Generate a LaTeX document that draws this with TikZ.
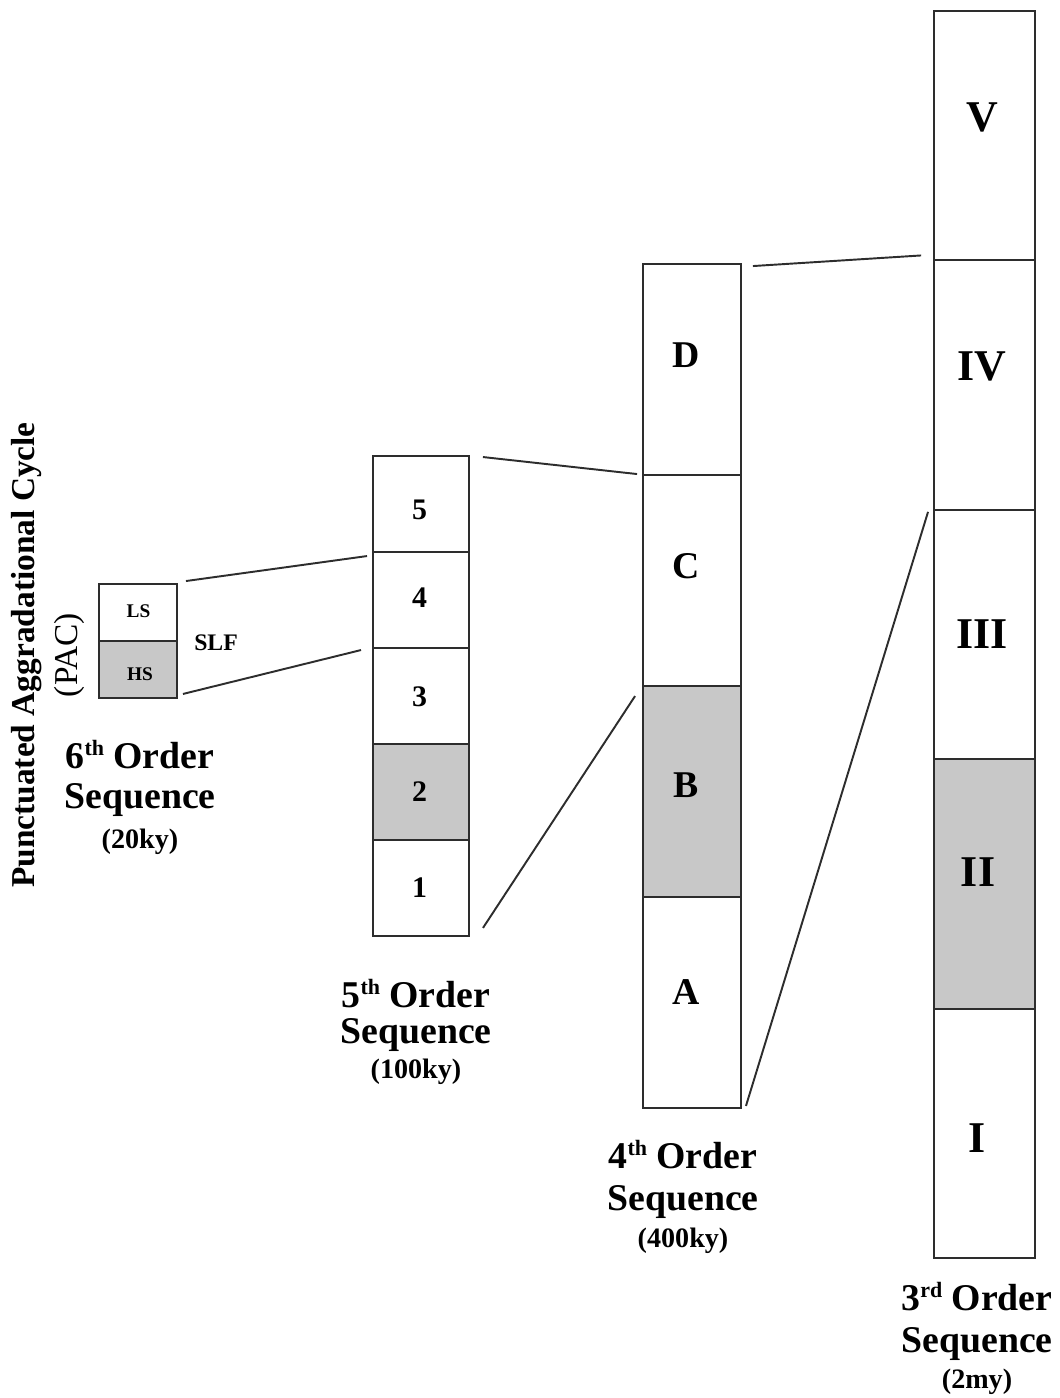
\documentclass[tikz,border=0pt]{standalone}
\usepackage{fontspec}
\setmainfont{Liberation Serif}
\usepackage{xcolor}
\definecolor{hsgray}{RGB}{200,200,200}
\definecolor{edge}{RGB}{45,45,45}
\newcommand\ordsup[1]{\raisebox{7.2pt}{\fontsize{12.5}{13}\selectfont #1}}

\begin{document}
\begin{tikzpicture}[x=0.02cm,y=-0.02cm]
  \tikzset{cell/.style={draw=edge,line width=1.1pt,inner sep=0pt,fill=#1},
    cell/.default=white,
    link/.style={draw=edge,line width=1.1pt},
    order/.style={font=\fontsize{21.5}{24}\selectfont\bfseries,anchor=base},
    age/.style={font=\fontsize{16}{19}\selectfont\bfseries,anchor=base}}
  \useasboundingbox (0,0) rectangle (1059,1398);

  % 6th order (PAC)
  \node[cell,minimum width=1.56cm,minimum height=1.14cm] (ls) at (138,612.5) {};
  \node[cell=hsgray,minimum width=1.56cm,minimum height=1.14cm] (hs) at (138,669.5) {};
  \node[font=\fontsize{11}{13}\selectfont\bfseries] (ls-txt) at (138.5,611.5) {LS};
  \node[font=\fontsize{11}{13}\selectfont\bfseries] (hs-txt) at (140,674.5) {HS};
  \node[font=\fontsize{13.5}{16}\selectfont\bfseries] (slf) at (216,643) {SLF};
  \node[rotate=90,align=center,inner sep=0pt,font=\fontsize{19}{24.4}\selectfont] (pac) at (48,655) {\textbf{Punctuated Aggradational Cycle}\\(PAC)};

  % 5th order
  \foreach \n/\k/\c/\ly in {5/0/white/510,4/1/white/598,3/2/white/697,2/3/hsgray/792,1/4/white/888}{
    \node[cell=\c,minimum width=1.92cm,minimum height=1.92cm] (five-\n) at (421,504+96*\k) {};
    \node[font=\fontsize{17}{20}\selectfont\bfseries] (five-\n-txt) at (419.5,\ly) {\n};
  }

  % 4th order
  \foreach \n/\k/\c/\ly in {D/0/white/355,C/1/white/566,B/2/hsgray/785,A/3/white/992}{
    \node[cell=\c,minimum width=1.96cm,minimum height=4.22cm] (four-\n) at (692,369.5+211*\k) {};
    \node[font=\fontsize{21.5}{24}\selectfont\bfseries] (four-\n-txt) at (686,\ly) {\n};
  }

  % 3rd order
  \foreach \n/\k/\c/\lx/\ly in {V/0/white/982/117,IV/1/white/982/366,III/2/white/982/634,II/3/hsgray/978/872,I/4/white/977/1138}{
    \node[cell=\c,minimum width=2.02cm,minimum height=4.988cm] (three-\n) at (984.5,135.7+249.4*\k) {};
    \node[font=\fontsize{25}{28}\selectfont\bfseries] (three-\n-txt) at (\lx,\ly) {\n};
  }

  % zoom lines
  \draw[link] ([shift={(8,-2)}]ls.north east) -- ([shift={(-5,5)}]five-4.north west);
  \draw[link] ([shift={(5,-5)}]hs.south east) -- ([shift={(-11,3)}]five-3.north west);
  \draw[link] ([shift={(13,2)}]five-5.north east) -- ([shift={(-5,0)}]four-C.north west);
  \draw[link] ([shift={(13,-9)}]five-1.south east) -- ([shift={(-7,11)}]four-B.north west);
  \draw[link] ([shift={(11,3)}]four-D.north east) -- ([shift={(-12,-4)}]three-IV.north west);
  \draw[link] ([shift={(4,-3)}]four-A.south east) -- ([shift={(-5,3)}]three-III.north west);

  % labels
  \node[order] (t6) at (140,768) {6\ordsup{th} Order};
  \node[order] (s6) at (140,808) {Sequence};
  \node[age] (a6) at (140,848) {(20ky)};
  \node[order] (t5) at (416,1007) {5\ordsup{th} Order};
  \node[order] (s5) at (416,1043) {Sequence};
  \node[age] (a5) at (416,1078) {(100ky)};
  \node[order] (t4) at (683,1168) {4\ordsup{th} Order};
  \node[order] (s4) at (683,1210) {Sequence};
  \node[age] (a4) at (683,1247) {(400ky)};
  \node[order] (t3) at (977,1310) {3\ordsup{rd} Order};
  \node[order] (s3) at (977,1352) {Sequence};
  \node[age] (a3) at (977,1388) {(2my)};
\end{tikzpicture}
\end{document}
